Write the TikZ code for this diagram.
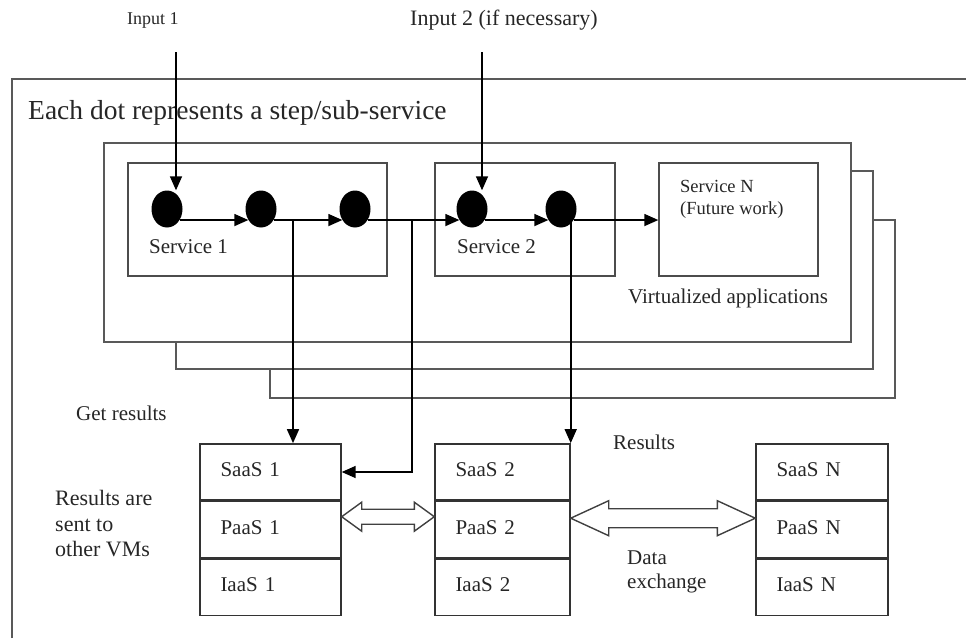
\documentclass[tikz,border=0pt]{standalone}
\usepackage{fontspec}
\setmainfont{Liberation Serif}
\usetikzlibrary{arrows.meta,positioning,calc,shapes.geometric}

% hollow two-headed arrow: from, to, head length, head half width, shaft half width
\newcommand\xchgarrow[5]{%
  \draw[xchg] (#1) -- ($(#1)+(#3,-#4)$) -- ($(#1)+(#3,-#5)$) -- ($(#2)+(-#3,-#5)$)
    -- ($(#2)+(-#3,-#4)$) -- (#2) -- ($(#2)+(-#3,#4)$) -- ($(#2)+(-#3,#5)$)
    -- ($(#1)+(#3,#5)$) -- ($(#1)+(#3,#4)$) -- cycle;}

\begin{document}
\begin{tikzpicture}[
            x = 1pt, y = -1pt, % one unit per pixel, y downwards
            > = {Triangle[length=14pt, width=12pt]}, % arrow head style
            font = \fontsize{21}{25}\selectfont,
            lbl/.style = {inner sep=0pt, anchor=west, align=left, text=black!85},
            vmframe/.style = {draw=black!65, line width=1.8pt, fill=white},
            svcbox/.style = {draw=black!70, line width=1.4pt, minimum height=113pt},
            stepdot/.style = {ellipse, fill=black, inner sep=0pt, minimum width=31pt, minimum height=37pt},
            layer/.style = {draw=black!80, line width=1.4pt, inner xsep=20.5pt, inner ysep=0pt,
                            text width=#1, text depth=5pt, minimum height=56.3pt, align=left, text=black!85},
            link/.style = {->, line width=1.6pt},
            xchg/.style = {draw=black!75, line width=1.4pt, fill=white}
        ]

	\useasboundingbox (0,0) rectangle (966,638);

	% outer frame, cut by the page edges
	\draw[draw=black!65, line width=1.8pt] (12,638) -- (12,79) -- (966,79);

	\node[lbl, font=\fontsize{18}{20}\selectfont] (in1) at (127,20) {Input 1};
	\node[lbl, font=\fontsize{22}{24}\selectfont] (in2) at (410,20) {Input 2 (if necessary)};
	\node[lbl, font=\fontsize{27.5}{30}\selectfont] (note) at (28,113) {Each dot represents a step/sub-service};

	% stacked virtual machines
	\node[vmframe, minimum width=625pt, minimum height=178pt] (vm3) at (582.5,309) {};
	\node[vmframe, minimum width=697pt, minimum height=198pt] (vm2) at (524.5,270) {};
	\node[vmframe, minimum width=747pt, minimum height=199pt] (vm1) at (477.5,242.5) {};

	% services
	\node[svcbox, minimum width=259pt] (sv1) at (257.5,219.5) {};
	\node[svcbox, minimum width=180pt] (sv2) at (525,219.5) {};
	\node[svcbox, minimum width=159pt] (svN) at (738.5,219.5) {};
	\node[lbl] (sv1lbl) at (149,247) {Service 1};
	\node[lbl] (sv2lbl) at (457,247) {Service 2};
	\node[lbl, font=\fontsize{18.5}{22}\selectfont] (svNlbl) at (680,199) {Service N\\(Future work)};
	\node[lbl] (virt) at (628,298) {Virtualized applications};

	% steps
	\node[stepdot] (d1) at (167,209) {};
	\node[stepdot] (d2) at (261,209) {};
	\node[stepdot] (d3) at (355,209) {};
	\node[stepdot] (d4) at (472,209) {};
	\node[stepdot] (d5) at (561,209) {};

	% cloud layers
	\node[layer=100pt] (saas1) at (270.5,472) {SaaS 1};
	\node[layer=100pt, below=0pt of saas1] (paas1) {PaaS 1};
	\node[layer=100pt, below=0pt of paas1] (iaas1) {IaaS 1};
	\node[layer=94pt] (saas2) at (502.5,472) {SaaS 2};
	\node[layer=94pt, below=0pt of saas2] (paas2) {PaaS 2};
	\node[layer=94pt, below=0pt of paas2] (iaas2) {IaaS 2};
	\node[layer=91pt] (saasN) at (822,472) {SaaS N};
	\node[layer=91pt, below=0pt of saasN] (paasN) {PaaS N};
	\node[layer=91pt, below=0pt of paasN] (iaasN) {IaaS N};

	\node[lbl] (getres) at (76,413) {Get results};
	\node[lbl, font=\fontsize{22}{25.5}\selectfont] (sent) at (55,524) {Results are\\sent to\\other VMs};
	\node[lbl] (res) at (613,442) {Results};
	\node[lbl, font=\fontsize{21}{24}\selectfont] (dx) at (627,572) {Data\\exchange};

	% connectors
	\coordinate (in1c) at (176,52);
	\coordinate (in2c) at (482,52);
	\coordinate (tap1) at (293,220);
	\coordinate (tap2) at (412,220);

	\draw[link] (in1c) -- (in1c |- d1.north);
	\draw[link] (in2c) -- (in2c |- d4.north);
	\draw[link] (d1.-41) -- (d2.221);
	\draw[link] (d2.-41) -- (d3.221);
	\draw[link] (d3.-41) -- (d4.221);
	\draw[link] (d4.-41) -- (d5.221);
	\draw[link] (d5.-41) -- (d5.-41 -| svN.west);
	\draw[link] (tap1) -- (tap1 |- saas1.north);
	\draw[link] (tap2) |- (saas1.east);
	\draw[link] (d5.-41 -| saas2.east) -- (saas2.north east);

	% data exchange between the machines
	\coordinate (x1a) at ([yshift=13pt]paas1.east);
	\coordinate (x1b) at ([yshift=13pt]paas2.west);
	\coordinate (x2a) at ([yshift=11.5pt]paas2.east);
	\coordinate (x2b) at ([yshift=11.5pt]paasN.west);
	\xchgarrow{x1a}{x1b}{20}{14.5}{7.5}
	\xchgarrow{x2a}{x2b}{38}{17.5}{9.5}

\end{tikzpicture}
\end{document}
